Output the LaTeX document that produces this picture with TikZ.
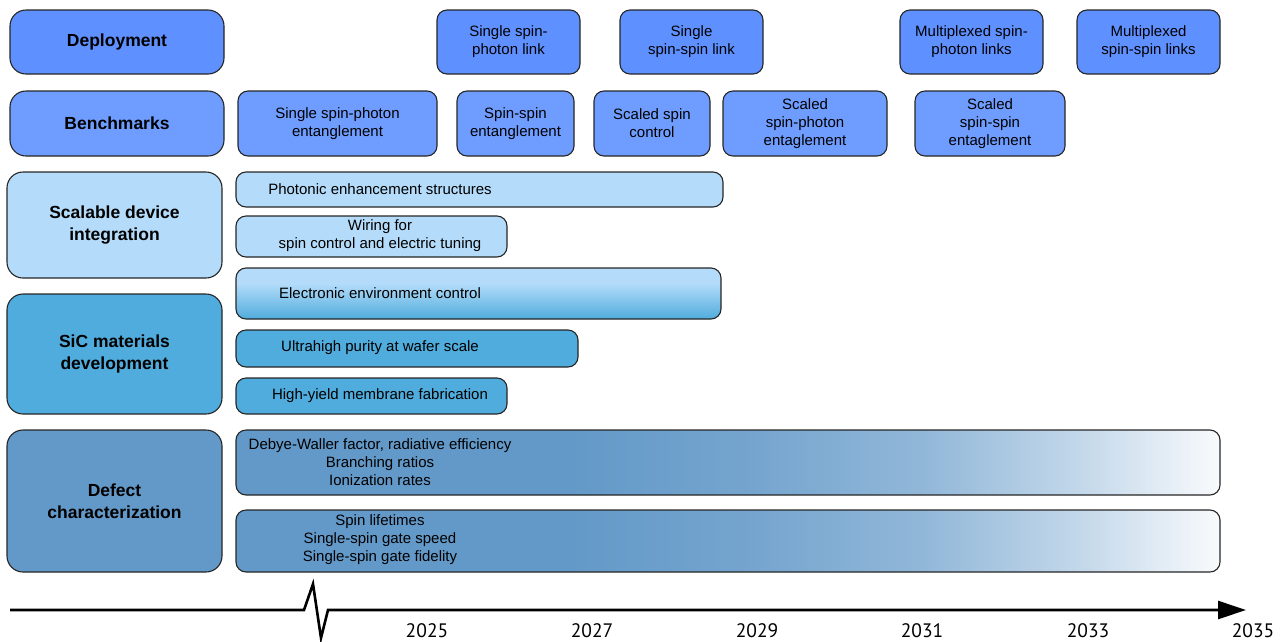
\documentclass[tikz,border=0pt]{standalone}
\usepackage{fontspec}
\setmainfont{Liberation Sans}
\newfontfamily\yearfont{PT Sans}
\usetikzlibrary{arrows.meta}
\definecolor{depc}{HTML}{5F90FF}
\definecolor{benc}{HTML}{6F9DFF}
\definecolor{sdic}{HTML}{B4DCFA}
\definecolor{sicc}{HTML}{50ACDC}
\definecolor{defc}{HTML}{6399C8}
\pgfdeclarehorizontalshading{defshade}{100bp}{color(0bp)=(defc); color(25bp)=(defc); color(42bp)=(defc); color(51.5bp)=(defc!88!white); color(60bp)=(defc!70!white); color(68bp)=(defc!38!white); color(75bp)=(white!96!defc); color(100bp)=(white!96!defc)}
\pgfdeclareverticalshading{envshade}{100bp}{color(0bp)=(sicc); color(25bp)=(sicc); color(60bp)=(sdic); color(100bp)=(sdic)}
\tikzset{
  bx/.style={draw=black!85, line width=1.1pt, rounded corners=10pt, inner sep=0pt, align=center,
    font=\fontsize{15}{18}\selectfont},
  big/.style={bx, rounded corners=16pt, font=\fontsize{17.5}{22}\selectfont\bfseries},
  txt/.style={inner sep=0pt, align=center, font=\fontsize{15}{18}\selectfont},
  yr/.style={inner sep=0pt, font=\fontsize{19.5}{20}\yearfont},
  axisline/.style={line width=2.6pt, -{Triangle[length=28pt,width=18pt]}}
}
\begin{document}
\begin{tikzpicture}[x=1pt,y=-1pt]
\useasboundingbox (0,0) rectangle (1285,641);
% Deployment row
\node[big, fill=depc, minimum width=214pt, minimum height=64pt] (dep) at (117,42) {Deployment};
\node[bx, fill=depc, minimum width=143pt, minimum height=64pt] (d1) at (508.5,42) {Single spin-\\photon link};
\node[bx, fill=depc, minimum width=143pt, minimum height=64pt] (d2) at (691.5,42) {Single\\spin-spin link};
\node[bx, fill=depc, minimum width=143pt, minimum height=64pt] (d3) at (971.5,42) {Multiplexed spin-\\photon links};
\node[bx, fill=depc, minimum width=143pt, minimum height=64pt] (d4) at (1148.5,42) {Multiplexed\\spin-spin links};
% Benchmarks row
\node[big, fill=benc, minimum width=214pt, minimum height=65pt] (ben) at (117,123.5) {Benchmarks};
\node[bx, fill=benc, minimum width=199pt, minimum height=65pt] (b1) at (337.5,123.5) {Single spin-photon\\entanglement};
\node[bx, fill=benc, minimum width=117pt, minimum height=65pt] (b2) at (515.5,123.5) {Spin-spin\\entanglement};
\node[bx, fill=benc, minimum width=116pt, minimum height=65pt] (b3) at (652,123.5) {Scaled spin\\control};
\node[bx, fill=benc, minimum width=164pt, minimum height=65pt] (b4) at (805,123.5) {Scaled\\spin-photon\\entaglement};
\node[bx, fill=benc, minimum width=150pt, minimum height=65pt] (b5) at (990,123.5) {Scaled\\spin-spin\\entaglement};
% Scalable device integration
\node[big, fill=sdic, minimum width=215pt, minimum height=106pt] (sdi) at (114.5,225) {Scalable device\\integration};
\node[bx, fill=sdic, minimum width=487pt, minimum height=35pt] (pes) at (479.5,189.5) {};
\node[txt] (pest) at (380,189) {Photonic enhancement structures};
\node[bx, fill=sdic, minimum width=271pt, minimum height=41pt] (wir) at (371.5,236.5) {};
\node[txt] (wirt) at (380,236) {Wiring for\\spin control and electric tuning};
\node[bx, shading=envshade, minimum width=485pt, minimum height=51pt] (eec) at (478.5,293.5) {};
\node[txt] (eect) at (380,293) {Electronic environment control};
% SiC materials development
\node[big, fill=sicc, minimum width=215pt, minimum height=120pt] (sic) at (114.5,354) {SiC materials\\development};
\node[bx, fill=sicc, minimum width=342pt, minimum height=37pt] (uhp) at (407,348.5) {};
\node[txt] (uhpt) at (380,348) {Ultrahigh purity at wafer scale};
\node[bx, fill=sicc, minimum width=271pt, minimum height=36pt] (hym) at (371.5,396) {};
\node[txt] (hymt) at (380,396) {High-yield membrane fabrication};
% Defect characterization
\node[big, fill=defc, minimum width=215pt, minimum height=142pt] (dc) at (114.5,501) {Defect\\characterization};
\node[bx, shading=defshade, minimum width=984pt, minimum height=65pt] (dw) at (728,462.5) {};
\node[txt] (dwt) at (380,462) {Debye-Waller factor, radiative efficiency\\Branching ratios\\Ionization rates};
\node[bx, shading=defshade, minimum width=984pt, minimum height=62pt] (sl) at (728,541) {};
\node[txt] (slt) at (380,540) {Spin lifetimes\\Single-spin gate speed\\Single-spin gate fidelity};
% Time axis
\coordinate (a0) at (10,610);
\coordinate (a1) at (304,610);
\coordinate (a2) at (313,584);
\coordinate (a3) at (321,638);
\coordinate (a4) at (328,610);
\coordinate (a5) at (1246,610);
\draw[axisline] (a0) -- (a1) -- (a2) -- (a3) -- (a4) -- (a5);
\node[yr] (y25) at (427,631) {2025};
\node[yr] (y27) at (592,631) {2027};
\node[yr] (y29) at (757,631) {2029};
\node[yr] (y31) at (922,631) {2031};
\node[yr] (y33) at (1088,631) {2033};
\node[yr] (y35) at (1253,631) {2035};
\end{tikzpicture}
\end{document}
